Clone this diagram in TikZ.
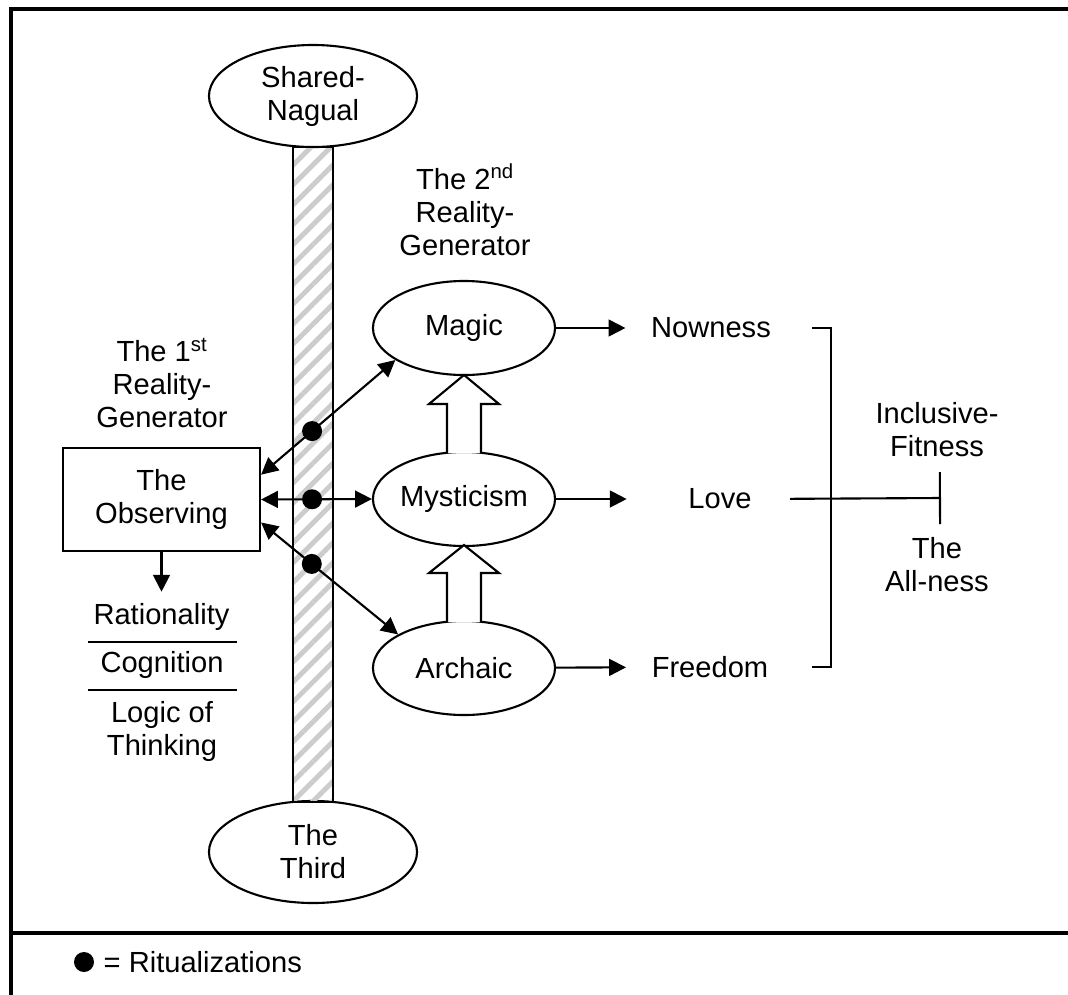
\documentclass[tikz,border=0pt]{standalone}
\usepackage{fontspec}
\setmainfont{Liberation Sans}
\usetikzlibrary{shapes.geometric,arrows.meta,patterns.meta}
\tikzset{
    vertex/.style = {
        circle,
        fill            = black,
        inner sep       = 0pt,
        minimum size    = 0.5cm,
    },
    realm/.style = {
        ellipse,
        draw,
        fill            = white,
        inner sep       = 0pt,
        align           = center,
        minimum width   = 4.55cm,
        minimum height  = 2.35cm,
    },
    pole/.style = {
        realm,
        minimum width   = 5.2cm,
        minimum height  = 2.55cm,
    },
    hollow/.style = {
        draw,
        fill            = white,
    }
}

\begin{document}
\begin{tikzpicture}[x=0.025cm,y=-0.025cm,line width=1.5pt,
    font=\fontsize{20.7}{23.5}\selectfont,
    >={Triangle[length=0.42cm,width=0.42cm]}]
  \useasboundingbox (0,0) rectangle (1068,995);

  % Rahmen
  \draw[line width=2.8pt] (11,995) -- (11,9) -- (1068,9);
  \draw[line width=2.2pt] (11,933) -- (1068,933);

  % Pole
  \node[pole] (Nagual) at (313,96) {Shared-\\Nagual};
  \node[pole] (Third) at (313,852) {The\\Third};
  \draw[pattern={Lines[angle=45,distance=10pt,line width=3.5pt]},pattern color=gray!40]
    (293,147) rectangle (333,802);

  % 1st Reality-Generator
  \node[align=center] (FirstGen) at (162,383) {The 1\textsuperscript{st}\\Reality-\\Generator};
  \node[draw,align=center,minimum width=4.925cm,minimum height=2.575cm] (Observing) at (161.5,499.5) {The\\Observing};
  \node (Rationality) at (161.5,617) {Rationality};
  \node (Cognition) at (162,665) {Cognition};
  \node[align=center] (Logic) at (162,731) {Logic of\\Thinking};
  \draw (88,642) -- (237,642);
  \draw (88,690) -- (237,690);
  \draw[->,shorten >=0.15cm] (Observing.south) to (Rationality.north);

  % 2nd Reality-Generator
  \node[align=center] (SecondGen) at (465,210) {The 2\textsuperscript{nd}\\Reality-\\Generator};
  \node[realm] (Magic) at (464,328) {Magic};
  \node[realm] (Mysticism) at (464,499) {Mysticism};
  \node[realm] (Archaic) at (464,668) {Archaic};

  \draw[hollow] (447,453) -- (447,404) -- (429,404) -- (464,375) -- (499,404) -- (481,404) -- (481,453);
  \draw[hollow] (447,622) -- (447,573) -- (429,573) -- (464,545) -- (499,573) -- (481,573) -- (481,622);

  % Ritualisierungen
  \draw[<->] (Observing.14) to node[vertex,pos=0.38] (DotA) {} (Magic.205);
  \draw[<->] (Observing.east) to node[vertex,pos=0.46] (DotB) {} (Mysticism.west);
  \draw[<->] (Observing.-13) to node[vertex,pos=0.37] (DotC) {} (Archaic.153);

  % Ergebnisse
  \node (Nowness) at (711,328) {Nowness};
  \node (Love) at (720,499) {Love};
  \node (Freedom) at (710,667) {Freedom};
  \draw[->,shorten >=0.5cm] (Magic) to (Nowness);
  \draw[->,shorten >=1.4cm] (Mysticism) to (Love);
  \draw[->,shorten >=0.5cm] (Archaic) to (Freedom);

  \draw (812,328) -- (831,328) -- (831,667) -- (812,667);
  \coordinate (Tee) at (941,498);
  \draw[-{Bar[width=1.3cm]},shorten <=0.82cm] (Love.east) to (Tee);
  \node[align=center] (Fitness) at (937,430) {Inclusive-\\Fitness};
  \node[align=center] (Allness) at (937,565) {The\\All-ness};

  % Legende
  \node[vertex] (LegendDot) at (84,962) {};
  \node[anchor=west] (Legend) at (98,962) {= Ritualizations};

\end{tikzpicture}
\end{document}
